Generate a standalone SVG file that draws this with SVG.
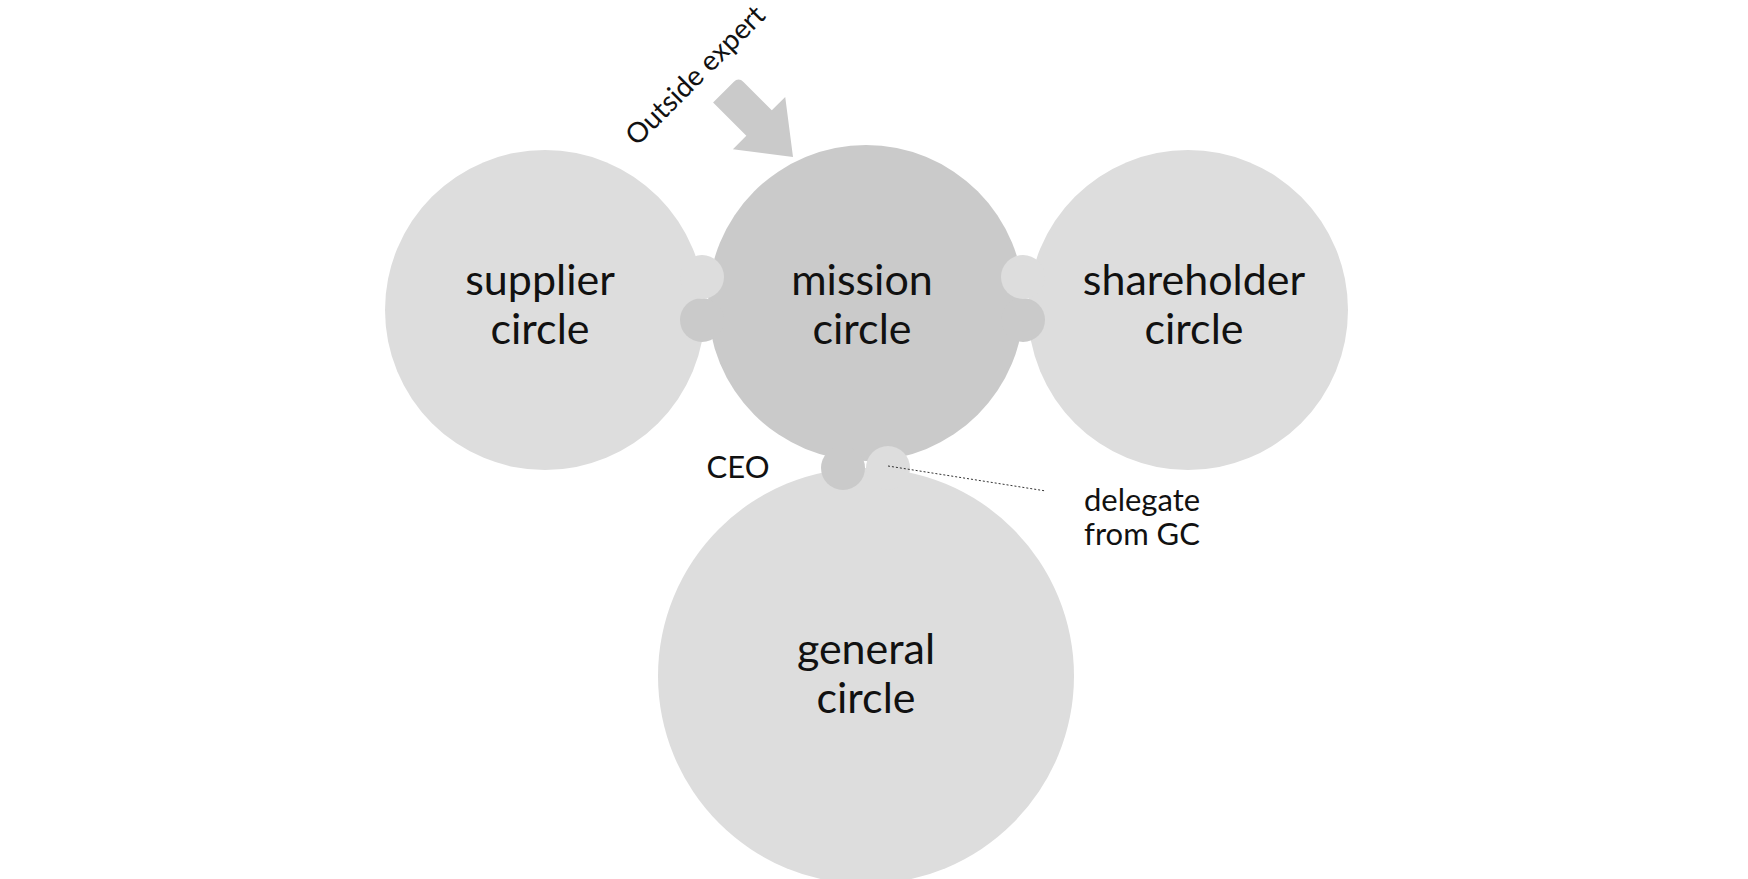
<svg xmlns="http://www.w3.org/2000/svg" width="1748" height="879" viewBox="0 0 1748 879">
<style>
.lt{fill:#dddddd}.dk{fill:#cacaca}
.lbl{font-family:Lato,"Noto Sans",sans-serif;font-size:43px;fill:#111;text-anchor:middle}
.sm{font-family:Lato,"Noto Sans",sans-serif;font-size:31px;fill:#111;text-anchor:middle}
</style>
<rect width="1748" height="879" fill="#fff"/>
<g id="general"><circle class="lt" cx="866" cy="676" r="208"/>
<text class="lbl" x="866" y="664">general</text><text class="lbl" x="866" y="713">circle</text></g>
<g id="supplier"><circle class="lt" cx="545" cy="310" r="160"/>
<text class="lbl" x="540" y="295">supplier</text><text class="lbl" x="540" y="344">circle</text></g>
<g id="shareholder"><circle class="lt" cx="1188" cy="310" r="160"/>
<text class="lbl" x="1194" y="295">shareholder</text><text class="lbl" x="1194" y="344">circle</text></g>
<g id="mission"><circle class="dk" cx="866" cy="303" r="158"/>
<circle class="dk" cx="702" cy="320" r="22"/><circle class="dk" cx="1023" cy="320" r="22"/><circle class="dk" cx="843" cy="468" r="22"/>
<circle class="lt" cx="702" cy="277" r="22"/><circle class="lt" cx="1023" cy="277" r="22"/><circle class="lt" cx="888" cy="468" r="22"/>
<text class="lbl" x="862" y="295">mission</text><text class="lbl" x="862" y="344">circle</text></g>
<g id="expert"><path class="dk" transform="translate(793,157) rotate(45)" d="M0,0 L-48,-37 L-48,-18 L-88,-18 Q-95,-18 -95,-11 L-95,18 L-48,18 L-48,37 Z"/>
<text class="sm" transform="translate(702,82) rotate(-45)" x="0" y="0" style="font-size:28px">Outside expert</text></g>
<g id="connectors"><line x1="888" y1="466" x2="1046" y2="491" stroke="#333" stroke-width="1" stroke-dasharray="2,2"/></g>
<g id="labels"><text class="sm" x="738" y="478">CEO</text>
<text class="sm" x="1142" y="511">delegate</text><text class="sm" x="1142" y="545">from GC</text></g>
</svg>
